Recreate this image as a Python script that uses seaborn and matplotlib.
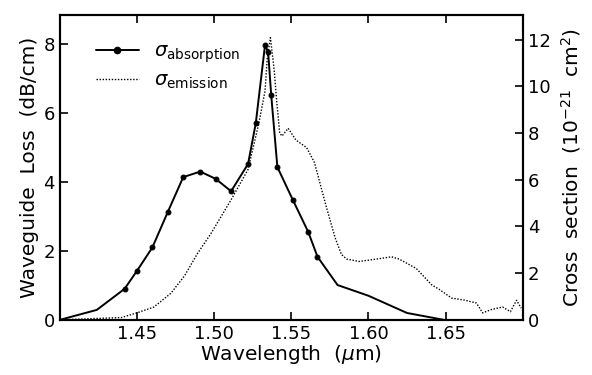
import numpy as np
import pandas as pd
import matplotlib
matplotlib.use("Agg")
import matplotlib.pyplot as plt
from matplotlib.lines import Line2D
import seaborn as sns

# absorption (left axis, dB/cm)
abs_wl = [1.400, 1.424, 1.442, 1.450, 1.460, 1.470, 1.480, 1.491, 1.501, 1.511,
          1.522, 1.527, 1.533, 1.535, 1.537, 1.541, 1.551, 1.561, 1.567,
          1.580, 1.600, 1.625, 1.649]
abs_loss = [0.0, 0.29, 0.90, 1.42, 2.10, 3.13, 4.14, 4.30, 4.09, 3.73,
            4.52, 5.70, 7.97, 7.77, 6.52, 4.43, 3.48, 2.55, 1.83,
            1.01, 0.70, 0.20, 0.0]

# emission cross section (right axis, 1e-21 cm^2)
em_wl = [1.400, 1.420, 1.440, 1.450, 1.461, 1.472, 1.481, 1.489, 1.498, 1.511,
         1.522, 1.529, 1.533, 1.5345, 1.5365, 1.539, 1.5405, 1.5425, 1.544, 1.548,
         1.553, 1.560, 1.565, 1.568, 1.573, 1.5785, 1.5825, 1.586, 1.594, 1.605,
         1.615, 1.620, 1.631, 1.641, 1.646, 1.654, 1.662, 1.670, 1.674, 1.680,
         1.687, 1.692, 1.696, 1.699]
em_cs = [0.0, 0.05, 0.1, 0.3, 0.55, 1.14, 1.9, 2.82, 3.7, 5.14,
         6.44, 8.42, 9.8, 11.24, 12.08, 10.65, 9.4, 8.0, 7.87, 8.2,
         7.7, 7.37, 6.74, 6.0, 4.77, 3.5, 2.8, 2.6, 2.5, 2.6,
         2.7, 2.6, 2.2, 1.5, 1.3, 0.93, 0.85, 0.72, 0.3, 0.45,
         0.55, 0.35, 0.84, 0.5]

x_ticks = [1.45, 1.50, 1.55, 1.60, 1.65]
x_labels = ["1.45", "1.50", "1.55", "1.60", "1.65"]

sns.set_style("ticks")
plt.rcParams["font.family"] = ["DejaVu Sans"]
plt.rcParams["mathtext.fontset"] = "dejavusans"
plt.rcParams["text.color"] = "black"
plt.rcParams["axes.labelcolor"] = "black"
plt.rcParams["xtick.color"] = "black"
plt.rcParams["ytick.color"] = "black"

fig = plt.figure(figsize=(5.92, 3.75), dpi=100)
ax = fig.add_axes([0.101, 0.147, 0.782, 0.813])
ax2 = ax.twinx()

df_abs = pd.DataFrame({"wl": abs_wl, "loss": abs_loss})
df_em = pd.DataFrame({"wl": em_wl, "cs": em_cs})

sns.lineplot(data=df_abs, x="wl", y="loss", ax=ax, color="black", lw=1.4,
             marker="o", markersize=3.5, markeredgecolor="black",
             markevery=list(range(2, 19)), sort=False)
sns.lineplot(data=df_em, x="wl", y="cs", ax=ax2, color="black", lw=1.0,
             linestyle=(0, (1, 1.2)), sort=False)

ax.set_xlim(1.40, 1.70)
ax.set_ylim(0, 8.84)
ax2.set_ylim(0, 13.05)
ax.set_xticks(x_ticks)
ax.set_xticklabels(x_labels)
ax.set_yticks([0, 2, 4, 6, 8])
ax2.set_yticks([0, 2, 4, 6, 8, 10, 12])

ax.tick_params(direction="in", length=6, width=1.2, top=True, labelsize=13)
ax2.tick_params(direction="in", length=6, width=1.2, labelsize=13)
for a in (ax, ax2):
    for s in a.spines.values():
        s.set_visible(True)
        s.set_linewidth(1.5)
        s.set_color("black")

ax.set_xlabel(r"Wavelength  ($\mu$m)", fontsize=14.5, labelpad=0)
ax.set_ylabel("Waveguide  Loss  (dB/cm)", fontsize=14.5, labelpad=3)
ax2.set_ylabel(r"Cross  section  ($10^{-21}$  cm$^2$)", fontsize=14.5, labelpad=6)

handles = [Line2D([], [], color="black", lw=1.4, marker="o", markersize=4.5),
           Line2D([], [], color="black", lw=1.0, linestyle=(0, (1, 1.2)))]
labels = [r"$\sigma_{\rm absorption}$", r"$\sigma_{\rm emission}$"]
ax.legend(handles, labels, loc="upper left", frameon=False, fontsize=14,
          handlelength=2.2, bbox_to_anchor=(0.04, 0.97), labelspacing=0.3)

fig.savefig("out.png", dpi=100)
